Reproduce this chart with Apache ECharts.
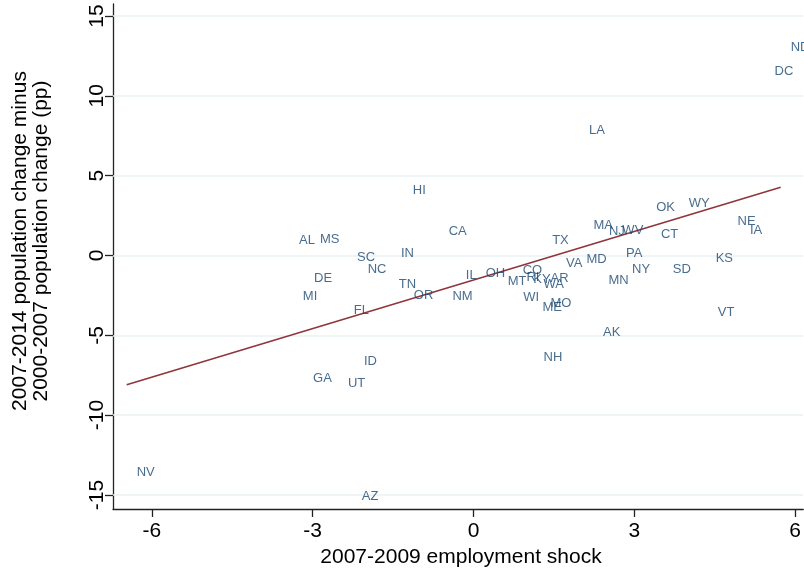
<!DOCTYPE html>
<html><head><meta charset="utf-8">
<script src="https://cdn.jsdelivr.net/npm/echarts@6/dist/echarts.min.js"></script>
<style>html,body{margin:0;padding:0;background:#fff}#c{width:804px;height:571px}</style>
</head><body><div id="c"></div>
<script>
const states = ["ND","DC","LA","HI","OK","WY","NE","IA","CA","MA","NJ","WV","CT","AL","MS","TX","IN","SC","PA","KS","MD","VA","NC","NY","SD","IL","OH","CO","DE","MT","RI","KY","AR","WA","MN","TN","OR","NM","MI","WI","MO","ME","FL","VT","AK","NH","ID","GA","UT","NV","AZ"];
const shock = [5.73,5.43,1.97,-1.32,3.22,3.83,4.74,4.97,-0.65,2.05,2.34,2.59,3.31,-3.44,-3.05,1.28,-1.54,-2.36,2.66,4.33,1.92,1.54,-2.16,2.77,3.53,-0.33,0.04,0.73,-3.16,0.45,0.80,0.93,1.25,1.12,2.33,-1.58,-1.30,-0.58,-3.37,0.74,1.25,1.10,-2.42,4.37,2.23,1.12,-2.23,-3.18,-2.53,-6.47,-2.27];
const popChange = [13.0,11.55,7.85,4.08,3.01,3.26,2.13,1.57,1.51,1.88,1.51,1.57,1.32,0.94,1.0,0.94,0.13,-0.13,0.13,-0.19,-0.25,-0.5,-0.88,-0.88,-0.88,-1.26,-1.13,-0.94,-1.44,-1.63,-1.38,-1.51,-1.44,-1.82,-1.57,-1.82,-2.51,-2.57,-2.57,-2.64,-3.01,-3.26,-3.45,-3.58,-4.83,-6.40,-6.65,-7.72,-8.04,-13.56,-15.07];
const xTicks = [-6,-3,0,3,6];
const yTicks = [-15,-10,-5,0,5,10,15];
const fitX = [-6.47, 5.73];
const fitY = [-8.10, 4.27];
const xTitle = "2007-2009 employment shock";
const yTitle = ["2007-2014 population change minus", "2000-2007 population change (pp)"];

const FONT = "'Liberation Sans', Arial, sans-serif";
const pts = states.map((s,i)=>[shock[i], popChange[i], s]);
const fitData = fitX.map((x,i)=>[x, fitY[i]]);

const chart = echarts.init(document.getElementById('c'), null, {renderer:'canvas'});
chart.setOption({
  backgroundColor:'#ffffff',
  animation:false,
  grid:{left:113,right:0,top:4,bottom:62,containLabel:false},
  xAxis:{
    type:'value', min:-6.725, max:6.15,
    axisLine:{show:true,onZero:false,lineStyle:{color:'#222',width:1.3}},
    axisTick:{show:true,length:8,lineStyle:{color:'#222',width:1.3},customValues:xTicks},
    axisLabel:{customValues:xTicks,fontFamily:FONT,fontSize:21,color:'#000',margin:12},
    splitLine:{show:false}
  },
  yAxis:{
    type:'value', min:-15.88, max:15.75,
    axisLine:{show:true,onZero:false,lineStyle:{color:'#222',width:1.3}},
    axisTick:{show:true,length:8,lineStyle:{color:'#222',width:1.3},customValues:yTicks},
    axisLabel:{customValues:yTicks,fontFamily:FONT,fontSize:21,color:'#000',margin:5,rotate:90},
    splitLine:{show:false}
  },
  graphic:[
    {type:'text',x:461,y:557,style:{text:xTitle,font:"21px "+FONT,fill:'#000',textAlign:'center',textVerticalAlign:'middle'},z:10},
    {type:'text',x:31,y:241,rotation:Math.PI/2,style:{text:yTitle.join('\n'),font:"21px "+FONT,fill:'#000',textAlign:'center',textVerticalAlign:'middle',lineHeight:21},z:10}
  ],
  series:[
    {type:'line',data:[],silent:true,z:1,
     markLine:{silent:true,z:1,symbol:'none',label:{show:false},lineStyle:{color:'#eaf1f3',width:1.5,type:'solid'},
       data:yTicks.map(v=>({yAxis:v}))}},
    {type:'line',data:fitData,showSymbol:false,silent:true,z:3,
     lineStyle:{color:'#8f353b',width:1.6},itemStyle:{color:'#8f353b'}},
    {type:'scatter',data:pts,symbolSize:0,z:4,itemStyle:{color:'rgba(0,0,0,0)'},
     label:{show:true,position:'right',distance:10,formatter:p=>p.data[2],fontFamily:FONT,fontSize:13,color:'#1a476f'}}
  ]
});
</script></body></html>
